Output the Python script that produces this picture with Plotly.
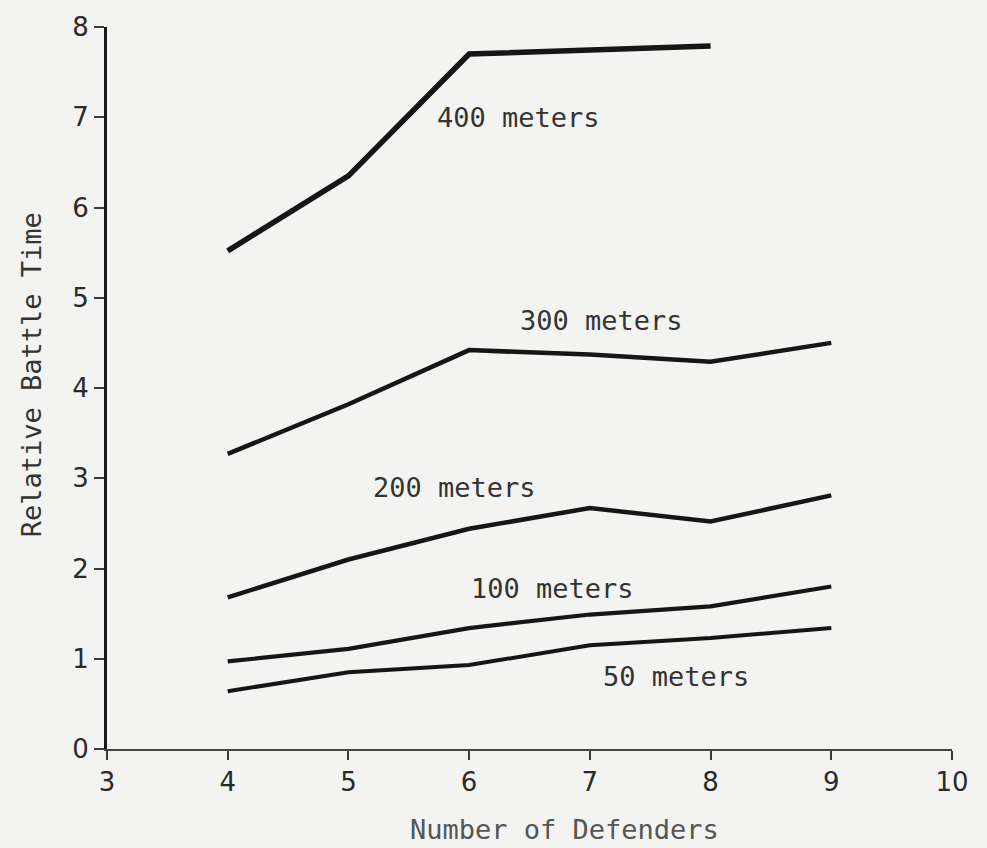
import plotly.graph_objects as go

defenders_400 = [4, 5, 6, 7, 8]
time_400 = [5.52, 6.35, 7.70, 7.74, 7.79]
defenders = [4, 5, 6, 7, 8, 9]
time_300 = [3.27, 3.82, 4.42, 4.37, 4.29, 4.50]
time_200 = [1.68, 2.10, 2.44, 2.67, 2.52, 2.81]
time_100 = [0.97, 1.11, 1.34, 1.49, 1.58, 1.80]
time_50 = [0.64, 0.85, 0.93, 1.15, 1.23, 1.34]

labels = ["400 meters", "300 meters", "200 meters", "100 meters", "50 meters"]
label_x = [6.41, 7.10, 5.88, 6.69, 7.71]
label_y = [7.00, 4.75, 2.90, 1.78, 0.80]

x_ticks = [3, 4, 5, 6, 7, 8, 9, 10]
y_ticks = [0, 1, 2, 3, 4, 5, 6, 7, 8]

ink = "#161616"
mono = "DejaVu Sans Mono"
bg = "#f3f3f1"

fig = go.Figure()
series = [(defenders_400, time_400, 5.5), (defenders, time_300, 4.5),
          (defenders, time_200, 4.5), (defenders, time_100, 4.2),
          (defenders, time_50, 4.0)]
for xs, ys, w in series:
    fig.add_trace(go.Scatter(x=xs, y=ys, mode="lines",
                             line=dict(color=ink, width=w),
                             showlegend=False, hoverinfo="skip"))

for t, lx, ly in zip(labels, label_x, label_y):
    fig.add_annotation(x=lx, y=ly, text=t, showarrow=False,
                       font=dict(family=mono, size=27, color="#333333"),
                       xanchor="center", yanchor="middle")

fig.add_annotation(xref="paper", yref="paper", x=0.542, y=-0.112,
                   text="Number of Defenders", showarrow=False,
                   font=dict(family=mono, size=27, color="#555555"),
                   xanchor="center", yanchor="middle")
fig.add_annotation(xref="paper", yref="paper", x=-0.09, y=0.519,
                   text="Relative Battle Time", showarrow=False, textangle=-90,
                   font=dict(family=mono, size=27, color="#333333"),
                   xanchor="center", yanchor="middle")

fig.update_layout(
    width=987, height=848,
    margin=dict(l=107, r=35, t=25, b=99),
    paper_bgcolor=bg, plot_bgcolor=bg,
    font=dict(family="DejaVu Sans", size=26, color="#2a2a2a"),
)
fig.update_xaxes(range=[3, 10], tickvals=x_ticks, showgrid=False, zeroline=False,
                 showline=True, linecolor="#444444", linewidth=2,
                 ticks="outside", ticklen=9, tickwidth=2, tickcolor="#3a3a3a",
                 tickfont=dict(family="DejaVu Sans", size=26, color="#2a2a2a"))
fig.update_yaxes(range=[0, 8], tickvals=y_ticks, showgrid=False, zeroline=False,
                 showline=True, linecolor=ink, linewidth=3,
                 ticks="outside", ticklen=10, tickwidth=2, tickcolor="#3a3a3a",
                 tickfont=dict(family="DejaVu Sans", size=26, color="#2a2a2a"))

fig.write_html("out.html", config={"displayModeBar": False},
               post_script="document.body.style.margin='0';"
                           "document.body.style.background='" + bg + "';"
                           "document.body.style.overflow='hidden';")
